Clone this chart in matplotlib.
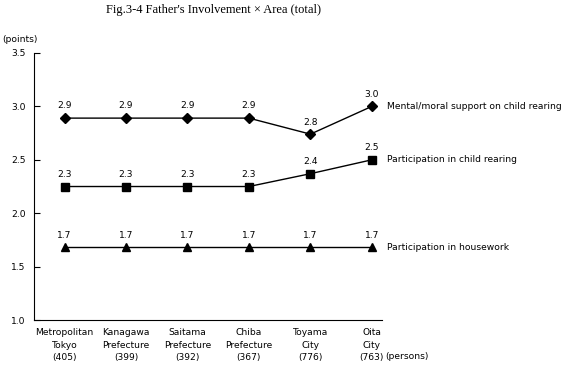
import matplotlib.pyplot as plt

# areas and sample sizes
areas = ["Metropolitan\nTokyo\n(405)", "Kanagawa\nPrefecture\n(399)", "Saitama\nPrefecture\n(392)",
         "Chiba\nPrefecture\n(367)", "Toyama\nCity\n(776)", "Oita\nCity\n(763)"]

support = [2.89, 2.89, 2.89, 2.89, 2.74, 3.00]
support_lbl = ["2.9", "2.9", "2.9", "2.9", "2.8", "3.0"]
rearing = [2.25, 2.25, 2.25, 2.25, 2.37, 2.50]
rearing_lbl = ["2.3", "2.3", "2.3", "2.3", "2.4", "2.5"]
housework = [1.68, 1.68, 1.68, 1.68, 1.68, 1.68]
housework_lbl = ["1.7", "1.7", "1.7", "1.7", "1.7", "1.7"]

series_names = ["Mental/moral support on child rearing",
                "Participation in child rearing",
                "Participation in housework"]

plt.rcParams['font.family'] = ['DejaVu Sans']
fs = 6.6

fig = plt.figure(figsize=(5.63, 3.65), dpi=100)
ax = fig.add_axes([0.060, 0.123, 0.618, 0.732])

x = list(range(len(areas)))
for vals, lbls, mk, ms, name in [(support, support_lbl, 'D', 4.8, series_names[0]),
                                 (rearing, rearing_lbl, 's', 5.2, series_names[1]),
                                 (housework, housework_lbl, '^', 5.8, series_names[2])]:
    ax.plot(x, vals, color='black', lw=1, marker=mk, ms=ms, clip_on=False)
    for xi, v, t in zip(x, vals, lbls):
        ax.annotate(t, (xi, v), xytext=(0, 5.5), textcoords='offset points',
                    ha='center', va='bottom', fontsize=fs)
    ax.annotate(name, (1.0, vals[-1]), xycoords=('axes fraction', 'data'),
                xytext=(4, 0), textcoords='offset points', va='center', ha='left',
                fontsize=fs, annotation_clip=False)

ax.set_xlim(-0.5, 5.16)
ax.set_ylim(1.0, 3.5)
ax.set_yticks([1.0, 1.5, 2.0, 2.5, 3.0, 3.5])
ax.set_yticklabels(["1.0", "1.5", "2.0", "2.5", "3.0", "3.5"], fontsize=fs)
ax.tick_params(axis='y', direction='in', length=4, width=0.8, pad=6)
ax.set_xticks(x)
ax.set_xticklabels(areas, fontsize=fs, linespacing=1.45)
ax.tick_params(axis='x', length=0, pad=6)
ax.spines['top'].set_visible(False)
ax.spines['right'].set_visible(False)

# same line as the last tick label
ax.annotate("(persons)", (5, 0), xycoords=('data', 'axes fraction'),
            xytext=(9.5, -26.5), textcoords='offset points', ha='left', va='center',
            fontsize=fs, annotation_clip=False)
fig.text(0.004, 0.893, "(points)", fontsize=fs, ha='left', va='center')
fig.text(0.380, 0.972, "Fig.3-4 Father's Involvement \u00d7 Area (total)",
         family=['Liberation Serif', 'DejaVu Serif'], fontsize=9, ha='center', va='center')

fig.savefig("out.png", dpi=100, facecolor='white')
